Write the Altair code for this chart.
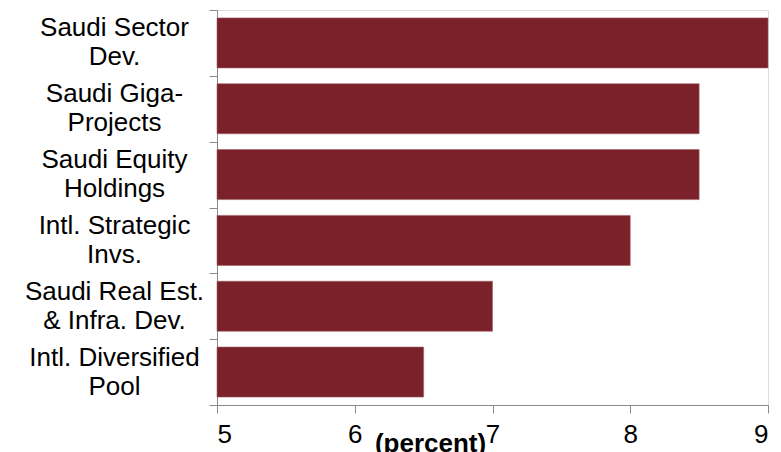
import altair as alt
import pandas as pd

categories = [
    "Saudi Sector|Dev.",
    "Saudi Giga-|Projects",
    "Saudi Equity|Holdings",
    "Intl. Strategic|Invs.",
    "Saudi Real Est.|& Infra. Dev.",
    "Intl. Diversified|Pool",
]
values = [9.0, 8.5, 8.5, 8.0, 7.0, 6.5]
x_ticks = [5, 6, 7, 8, 9]

df = pd.DataFrame({"category": categories, "value": values})

FONT = "Liberation Sans"
GREY = "#8a8a8a"

chart = (
    alt.Chart(df)
    .mark_bar(
        color="#7A2129",
        stroke="#a06068",
        strokeWidth=0.6,
        height=alt.RelativeBandSize(band=0.76),
    )
    .encode(
        y=alt.Y(
            "category:N",
            sort=categories,
            scale=alt.Scale(paddingInner=0, paddingOuter=0),
            axis=alt.Axis(
                title=None,
                labelExpr="split(datum.label, '|')",
                labelFont=FONT,
                labelFontSize=26,
                labelColor="#000000",
                labelLineHeight=29,
                labelOffset=-15,
                labelPadding=95,
                labelAlign="center",
                labelBaseline="middle",
                tickBand="extent",
                tickSize=8,
                tickColor=GREY,
                domainColor=GREY,
                labelLimit=400,
            ),
        ),
        x=alt.X(
            "value:Q",
            scale=alt.Scale(domain=[5, 9], zero=False, nice=False),
            axis=alt.Axis(
                title="(percent)",
                values=x_ticks,
                labelFont=FONT,
                labelFontSize=26,
                labelColor="#000000",
                labelPadding=8,
                tickSize=8,
                tickColor=GREY,
                domainColor=GREY,
                grid=False,
                titleFont=FONT,
                titleFontSize=26,
                titleFontWeight="bold",
                titleColor="#000000",
                titleX=213,
                titleY=46,
                titleBaseline="alphabetic",
                titleAnchor="middle",
            ),
        ),
        x2=alt.datum(5),
    )
    .properties(
        width=551,
        height=395,
        autosize=alt.AutoSizeParams(type="none"),
        padding={"left": 217, "top": 10, "right": 13, "bottom": 47},
    )
    .configure_view(stroke=None)
    .configure(background="white")
)

chart.save("out.html", embed_options={"renderer": "svg", "actions": False})
